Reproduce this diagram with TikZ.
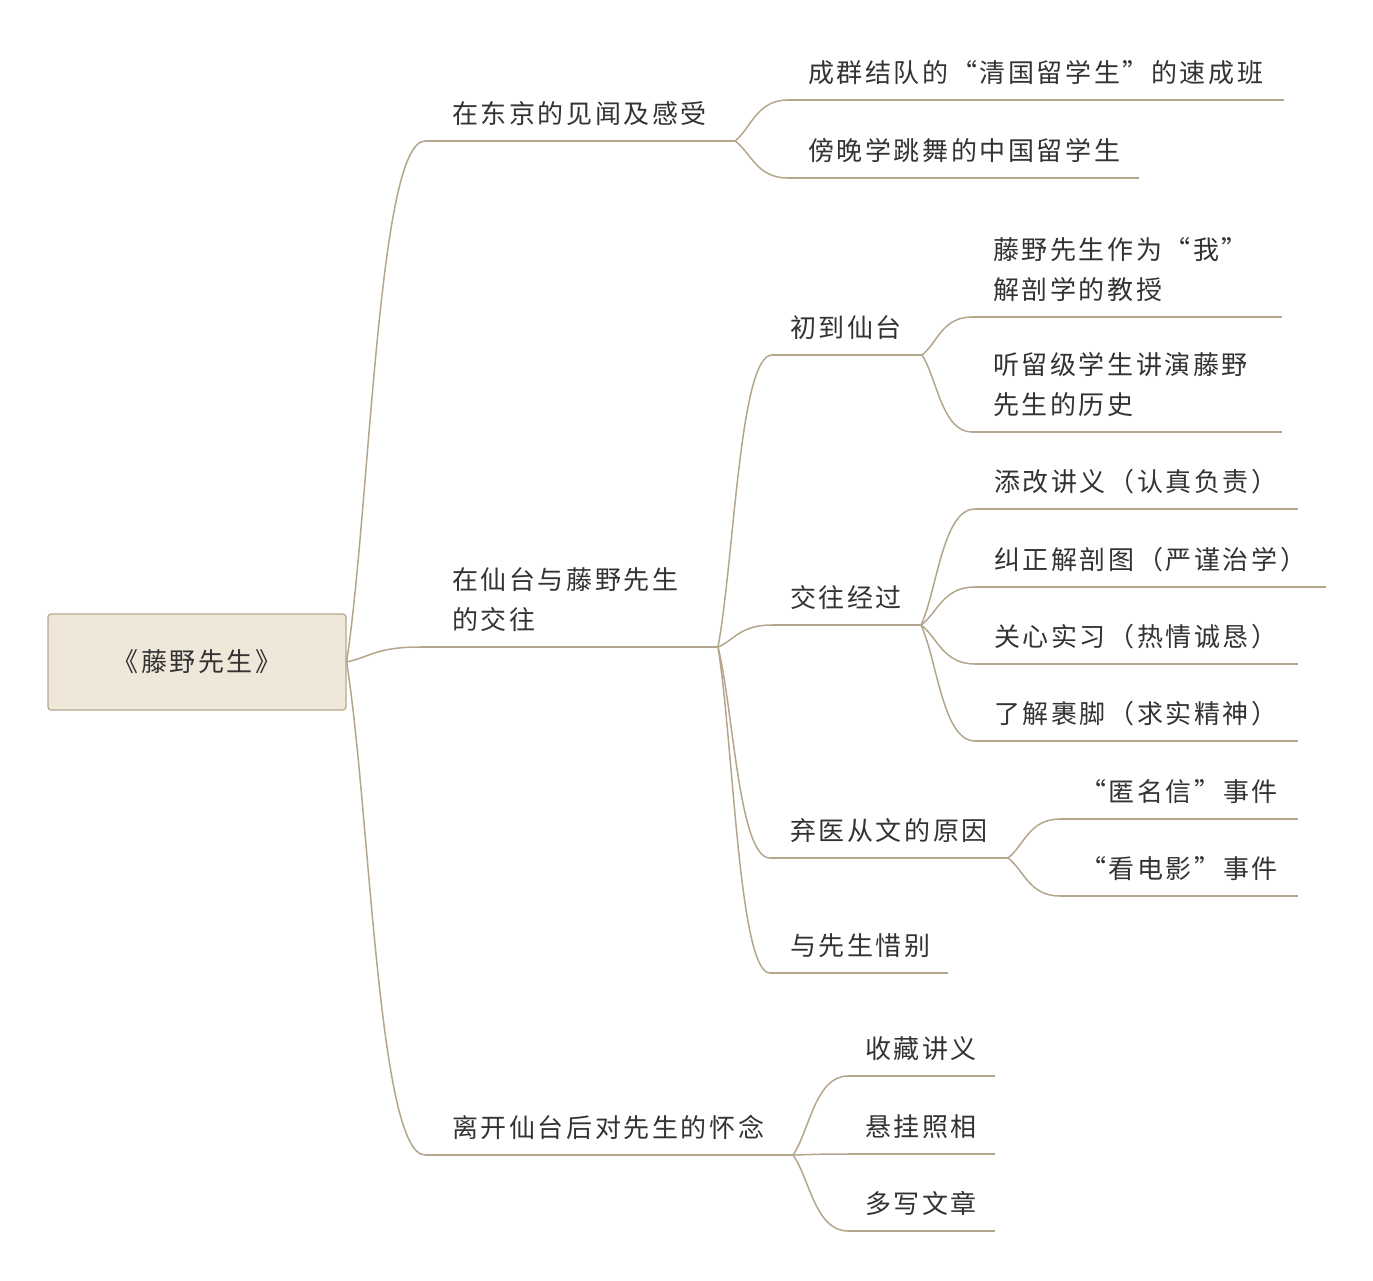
\documentclass[tikz,border=0pt]{standalone}
\usepackage{fontspec}
\usetikzlibrary{positioning,calc}
\newfontfamily\cjk[LetterSpace=10]{Noto Sans CJK SC}
\definecolor{mapline}{RGB}{180,166,140}
\definecolor{rootfill}{RGB}{239,231,218}
\definecolor{rootdraw}{RGB}{181,168,145}
\definecolor{maptext}{RGB}{51,51,51}
\tikzset{
  topic/.style={inner sep=0pt, align=left, text=maptext, font=\cjk\fontsize{26}{40}\selectfont},
  rootbox/.style={draw=rootdraw, fill=rootfill, line width=1.2pt, rounded corners=3pt,
    minimum width=298pt, minimum height=96pt, text=maptext, font=\cjk\fontsize{26}{40}\selectfont},
  under/.style={draw=mapline, line width=1.5pt},
  branch/.style={draw=mapline, line width=1.5pt,
    to path={.. controls ($(\tikztostart)!0.3!(\tikztotarget)$) and ($(\tikztotarget)!0.6!(\tikztostart |- \tikztotarget)$) .. (\tikztotarget)}}
}
\begin{document}
\begin{tikzpicture}[x=1pt, y=-1pt]
  \useasboundingbox (0,0) rectangle (1373,1280);

  \node[rootbox] (root) at (197,662) {《藤野先生》};

  % first level
  \coordinate (djL) at (425,141);  \coordinate (djR) at (735,141);
  \coordinate (stL) at (420,647);  \coordinate (stR) at (718,647);
  \coordinate (lkL) at (425,1155); \coordinate (lkR) at (793,1155);
  \node[topic, above right=15pt and 27pt of djL] (dj) {在东京的见闻及感受};
  \node[topic, above right=15pt and 32pt of stL] (st) {在仙台与藤野先生\\的交往};
  \node[topic, above right=15pt and 27pt of lkL] (lk) {离开仙台后对先生的怀念};

  % in Tokyo
  \coordinate (scL) at (788,100);  \coordinate (scR) at (1284,100);
  \coordinate (twL) at (788,178);  \coordinate (twR) at (1139,178);
  \node[topic, above right=15pt and 20pt of scL] (sc) {成群结队的“清国留学生”的速成班};
  \node[topic, above right=15pt and 20pt of twL] (tw) {傍晚学跳舞的中国留学生};

  % in Sendai
  \coordinate (cdL) at (772,355);  \coordinate (cdR) at (922,355);
  \coordinate (jwL) at (772,625);  \coordinate (jwR) at (921,625);
  \coordinate (qyL) at (770,858);  \coordinate (qyR) at (1008,858);
  \coordinate (xbL) at (770,973);  \coordinate (xbR) at (948,973);
  \node[topic, above right=15pt and 18pt of cdL] (cd) {初到仙台};
  \node[topic, above right=15pt and 18pt of jwL] (jw) {交往经过};
  \node[topic, above right=15pt and 20pt of qyL] (qy) {弃医从文的原因};
  \node[topic, above right=15pt and 20pt of xbL] (xb) {与先生惜别};

  \coordinate (jsL) at (972,317);  \coordinate (jsR) at (1282,317);
  \coordinate (lsL) at (972,432);  \coordinate (lsR) at (1282,432);
  \node[topic, above right=15pt and 21pt of jsL] (js) {藤野先生作为“我”\\解剖学的教授};
  \node[topic, above right=15pt and 21pt of lsL] (ls) {听留级学生讲演藤野\\先生的历史};

  \coordinate (jyL) at (975,509);  \coordinate (jyR) at (1298,509);
  \coordinate (jpL) at (975,587);  \coordinate (jpR) at (1326,587);
  \coordinate (sxL) at (975,664);  \coordinate (sxR) at (1298,664);
  \coordinate (gjL) at (975,741);  \coordinate (gjR) at (1298,741);
  \node[topic, above right=15pt and 19pt of jyL] (jy) {添改讲义（认真负责）};
  \node[topic, above right=15pt and 19pt of jpL] (jp) {纠正解剖图（严谨治学）};
  \node[topic, above right=15pt and 19pt of sxL] (sx) {关心实习（热情诚恳）};
  \node[topic, above right=15pt and 19pt of gjL] (gj) {了解裹脚（求实精神）};

  \coordinate (nmL) at (1060,819); \coordinate (nmR) at (1298,819);
  \coordinate (dyL) at (1060,896); \coordinate (dyR) at (1298,896);
  \node[topic, above right=15pt and 20pt of nmL] (nm) {“匿名信”事件};
  \node[topic, above right=15pt and 20pt of dyL] (dy) {“看电影”事件};

  % after Sendai
  \coordinate (ccL) at (848,1076); \coordinate (ccR) at (995,1076);
  \coordinate (xgL) at (848,1154); \coordinate (xgR) at (995,1154);
  \coordinate (dwL) at (848,1231); \coordinate (dwR) at (995,1231);
  \node[topic, above right=15pt and 17pt of ccL] (cc) {收藏讲义};
  \node[topic, above right=15pt and 17pt of xgL] (xg) {悬挂照相};
  \node[topic, above right=15pt and 17pt of dwL] (dw) {多写文章};

  % underlines
  \foreach \t in {dj,st,lk,sc,tw,cd,jw,qy,xb,js,ls,jy,jp,sx,gj,nm,dy,cc,xg,dw}
    \path[under] (\t L) -- (\t R);

  % connectors
  \path[branch] (root.east) to (djL);
  \path[branch] (root.east) to (stL);
  \path[branch] (root.east) to (lkL);
  \path[branch] (djR) to (scL);
  \path[branch] (djR) to (twL);
  \path[branch] (stR) to (cdL);
  \path[branch] (stR) to (jwL);
  \path[branch] (stR) to (qyL);
  \path[branch] (stR) to (xbL);
  \path[branch] (cdR) to (jsL);
  \path[branch] (cdR) to (lsL);
  \path[branch] (jwR) to (jyL);
  \path[branch] (jwR) to (jpL);
  \path[branch] (jwR) to (sxL);
  \path[branch] (jwR) to (gjL);
  \path[branch] (qyR) to (nmL);
  \path[branch] (qyR) to (dyL);
  \path[branch] (lkR) to (ccL);
  \path[branch] (lkR) to (xgL);
  \path[branch] (lkR) to (dwL);
\end{tikzpicture}
\end{document}
